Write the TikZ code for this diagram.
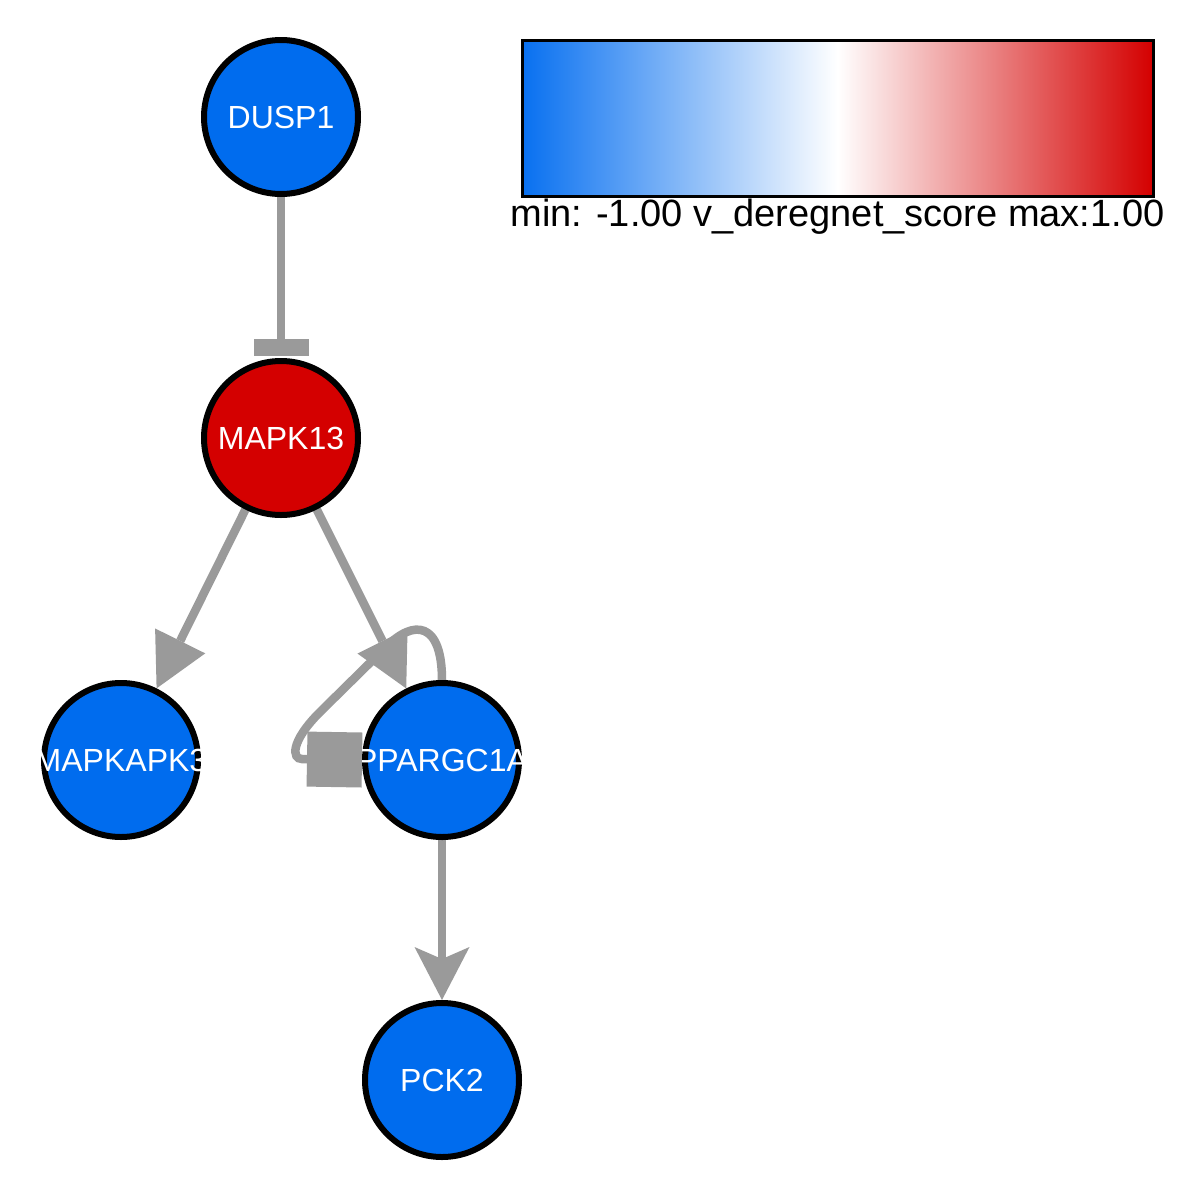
\documentclass[tikz,border=0pt]{standalone}
\usepackage{fontspec}
\setmainfont{Liberation Sans}
\usetikzlibrary{arrows.meta,backgrounds}
\definecolor{nodeblue}{RGB}{0,108,238}
\definecolor{nodered}{RGB}{212,0,0}
\definecolor{edgegray}{RGB}{154,154,154}
\definecolor{barblue}{RGB}{8,112,240}
\tikzset{
  gene/.style={circle, draw=black, line width=6pt, minimum size=154pt, inner sep=0pt,
    text=white, font=\fontsize{32}{38}\selectfont},
  genelabel/.style={text=white, font=\fontsize{32}{38}\selectfont, inner sep=0pt},
  linkline/.style={draw=edgegray, line width=8.5pt},
  acttip/.style={-{Triangle[length=53pt,width=56pt,line width=0pt]}},
  acttipb/.style={-{Stealth[length=53pt,width=55pt,inset=12pt,line width=0pt]}},
  inhtip/.style={-{Rectangle[length=17pt,width=55pt,line width=0pt]}},
  sqtip/.style={-{Rectangle[length=55pt,width=55pt,line width=0pt]}},
}
\begin{document}
\begin{tikzpicture}[x=1pt,y=-1pt]
\useasboundingbox (0,0) rectangle (1200,1200);

% nodes
\node[gene, fill=nodeblue] (DUSP1) at (281,117) {DUSP1};
\node[gene, fill=nodered] (MAPK13) at (281,438) {MAPK13};
\node[gene, fill=nodeblue] (MAPKAPK3) at (121,760) {};
\node[gene, fill=nodeblue] (PPARGC1A) at (442,760) {};
\node[gene, fill=nodeblue] (PCK2) at (442,1080) {PCK2};

\begin{scope}
  \clip (MAPKAPK3.west |- MAPKAPK3.north) rectangle (MAPKAPK3.east |- MAPKAPK3.south);
  \node[genelabel] (MAPKAPK3label) at (MAPKAPK3.center) {MAPKAPK3};
\end{scope}
\begin{scope}
  \clip (PPARGC1A.west |- PPARGC1A.north) rectangle (PPARGC1A.east |- PPARGC1A.south);
  \node[genelabel] (PPARGC1Alabel) at (PPARGC1A.center) {PPARGC1A};
\end{scope}

% edges
\begin{scope}[on background layer]
  \fill[white] (0,0) rectangle (1200,1200);
  \draw[linkline, inhtip, shorten >=2.5pt] (DUSP1) -- (MAPK13);
  \draw[linkline, acttip] (MAPK13) -- (MAPKAPK3);
  \draw[linkline, acttip] (MAPK13) -- (PPARGC1A);
  \draw[linkline, acttipb] (PPARGC1A) -- (PCK2);
  \draw[linkline, sqtip] (PPARGC1A.north) .. controls (442,622) and (414,618) .. (385,648)
     -- (320,712) .. controls (290,742) and (292,759) .. (302,759) -- (PPARGC1A.west);
\end{scope}

% legend
\shade[left color=barblue, right color=nodered, middle color=white] (522,40) rectangle (1153,196);
\draw[line width=3pt] (522,40) rectangle (1153,196);
\node[anchor=base, inner sep=0pt, font=\fontsize{38}{44}\selectfont] (legendtext) at (837.5,226)
  {min: -1.00 v\_deregnet\_score max:1.00};
\end{tikzpicture}
\end{document}
